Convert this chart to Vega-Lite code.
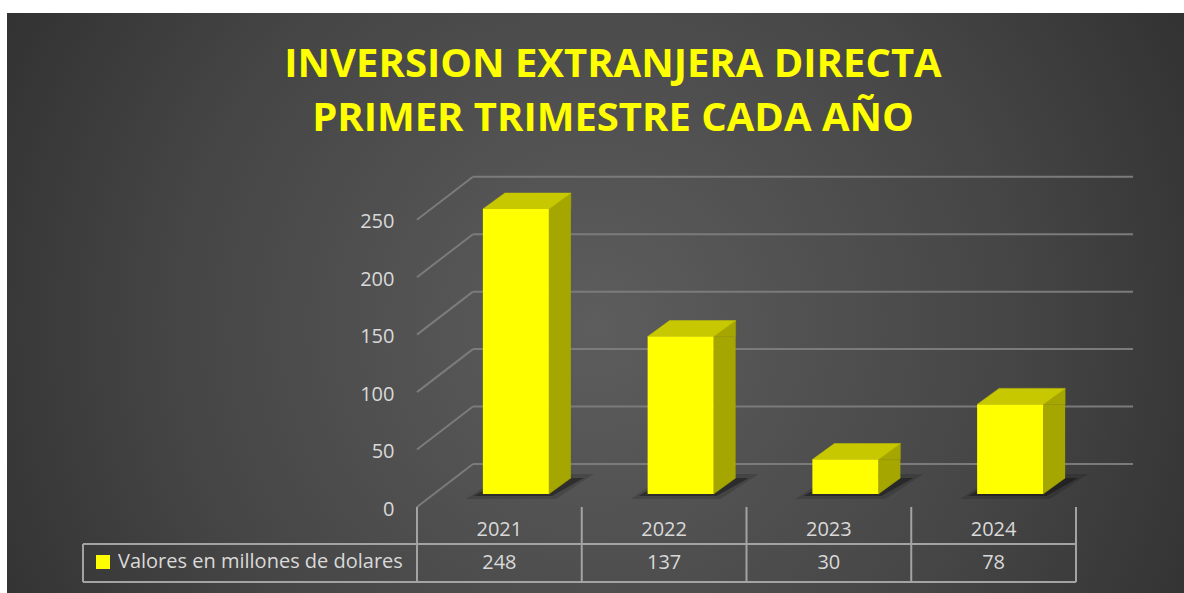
{
  "$schema": "https://vega.github.io/schema/vega-lite/v6.json",
  "width": 1177,
  "height": 580,
  "autosize": {"type": "none"},
  "padding": {"left": 7, "top": 13, "right": 0, "bottom": 0},
  "background": "#ffffff",
  "config": {
    "view": {
      "stroke": null,
      "fill": {"gradient": "radial", "x1": 0.5, "y1": 0.52, "r1": 0, "x2": 0.5, "y2": 0.52, "r2": 0.72,
        "stops": [{"offset": 0, "color": "#5d5d5d"}, {"offset": 0.5, "color": "#454545"}, {"offset": 1, "color": "#242424"}]}
    },
    "text": {"font": "Open Sans"}
  },
  "title": {
    "text": "INVERSION EXTRANJERA DIRECTA",
    "subtitle": "PRIMER TRIMESTRE CADA AÑO",
    "color": "#FFFF00",
    "subtitleColor": "#FFFF00",
    "font": "Open Sans",
    "subtitleFont": "Open Sans",
    "fontSize": 40,
    "subtitleFontSize": 40,
    "fontWeight": "bold",
    "subtitleFontWeight": "bold",
    "subtitlePadding": 14,
    "anchor": "middle",
    "frame": "group",
    "offset": -126,
    "dx": 17.5
  },
  "datasets": {
    "ied": [
      {"anio": "2021", "valor": 248, "serie": "Valores en millones de dolares"},
      {"anio": "2022", "valor": 137, "serie": "Valores en millones de dolares"},
      {"anio": "2023", "valor": 30, "serie": "Valores en millones de dolares"},
      {"anio": "2024", "valor": 78, "serie": "Valores en millones de dolares"}
    ],
    "ticks": [{"v": 0}, {"v": 50}, {"v": 100}, {"v": 150}, {"v": 200}, {"v": 250}]
  },
  "layer": [
    {
      "data": {"name": "ticks"},
      "mark": {"type": "rule", "color": "#7b7b7b", "strokeWidth": 2, "xOffset": -26.4, "x2Offset": 139.4, "yOffset": -30},
      "encoding": {
        "x": {"datum": "2021", "type": "nominal", "bandPosition": 0.5,
          "scale": {"domain": ["2021", "2022", "2023", "2024"], "range": [410, 1069], "paddingInner": 0, "paddingOuter": 0},
          "axis": null},
        "x2": {"datum": "2024", "bandPosition": 0.5},
        "y": {"field": "v", "type": "quantitative",
          "scale": {"domain": [0, 250], "range": [481, 193.75], "nice": false, "zero": true},
          "axis": {"orient": "left", "offset": -387, "domain": false, "ticks": false, "grid": false, "labelPadding": 0,
            "labelOffset": 15, "labelFont": "Open Sans", "labelFontSize": 20, "labelColor": "#D9D9D9",
            "values": [0, 50, 100, 150, 200, 250], "title": null}}
      }
    },
    {
      "data": {"name": "ticks"},
      "mark": {"type": "rule", "color": "#7b7b7b", "strokeWidth": 2, "xOffset": -82.4, "x2Offset": -26.4, "yOffset": 13, "y2Offset": -30},
      "encoding": {
        "x": {"datum": "2021", "type": "nominal", "bandPosition": 0.5},
        "x2": {"datum": "2021", "bandPosition": 0.5},
        "y": {"field": "v", "type": "quantitative"},
        "y2": {"field": "v"}
      }
    },
    {
      "data": {"name": "ied"},
      "mark": {"type": "point", "shape": "M-50,5 L40,5 L78,-20 L-12,-20 Z", "size": 4, "filled": true, "color": "#000000", "opacity": 0.15, "xOffset": 16.5},
      "encoding": {"x": {"field": "anio", "type": "nominal"}, "y": {"datum": 0}}
    },
    {
      "data": {"name": "ied"},
      "mark": {"type": "point", "shape": "M-42,2 L36,2 L68,-16 L-10,-16 Z", "size": 4, "filled": true, "color": "#000000", "opacity": 0.35, "xOffset": 16.5},
      "encoding": {"x": {"field": "anio", "type": "nominal"}, "y": {"datum": 0}}
    },
    {
      "data": {"name": "ied"},
      "mark": {"type": "bar", "width": 22, "xOffset": 60.5, "y2Offset": -16, "color": "#A6A600"},
      "encoding": {"x": {"field": "anio", "type": "nominal"}, "y": {"field": "valor", "type": "quantitative"}, "y2": {"datum": 0}}
    },
    {
      "data": {"name": "ied"},
      "mark": {"type": "point", "shape": "M33,0 L55,-16 L55,0 Z", "size": 4, "filled": true, "color": "#A6A600", "stroke": "#A6A600", "strokeWidth": 0.5, "opacity": 1, "xOffset": 16.5},
      "encoding": {"x": {"field": "anio", "type": "nominal"}, "y": {"field": "valor", "type": "quantitative"}}
    },
    {
      "data": {"name": "ied"},
      "mark": {"type": "point", "shape": "M33,0 L55,-16 L33,-16 Z", "size": 4, "filled": true, "color": "#A6A600", "stroke": "#A6A600", "strokeWidth": 0.5, "opacity": 1, "xOffset": 16.5},
      "encoding": {"x": {"field": "anio", "type": "nominal"}, "y": {"datum": 0}}
    },
    {
      "data": {"name": "ied"},
      "mark": {"type": "point", "shape": "M-33,0 L33,0 L55,-16 L-11,-16 Z", "size": 4, "filled": true, "color": "#C8C800", "stroke": "#C8C800", "strokeWidth": 0.5, "opacity": 1, "xOffset": 16.5},
      "encoding": {"x": {"field": "anio", "type": "nominal"}, "y": {"field": "valor", "type": "quantitative"}}
    },
    {
      "data": {"name": "ied"},
      "mark": {"type": "bar", "width": 66, "xOffset": 16.5, "opacity": 1},
      "encoding": {
        "x": {"field": "anio", "type": "nominal"},
        "y": {"field": "valor", "type": "quantitative"},
        "color": {"field": "serie", "type": "nominal", "scale": {"range": ["#FFFF00"]},
          "legend": {"orient": "none", "legendX": 86, "legendY": 539, "title": null, "padding": 0,
            "symbolType": "square", "symbolSize": 196, "symbolStrokeWidth": 0, "labelOffset": 5, "labelLimit": 0,
            "labelFont": "Open Sans", "labelFontSize": 20, "labelColor": "#D9D9D9"}}
      }
    },
    {
      "data": {"name": "ied"},
      "mark": {"type": "rule", "color": "#a3a3a3", "strokeWidth": 2, "yOffset": 13, "y2Offset": 88},
      "encoding": {"x": {"field": "anio", "type": "nominal", "bandPosition": 0}, "y": {"datum": 0}, "y2": {"datum": 0}}
    },
    {
      "data": {"values": [{}]},
      "mark": {"type": "rule", "color": "#a3a3a3", "strokeWidth": 2, "yOffset": 13, "y2Offset": 88},
      "encoding": {"x": {"datum": "2024", "type": "nominal", "bandPosition": 1}, "y": {"datum": 0}, "y2": {"datum": 0}}
    },
    {
      "data": {"values": [{}]},
      "mark": {"type": "rule", "color": "#a3a3a3", "strokeWidth": 2, "xOffset": -334, "yOffset": 50, "y2Offset": 88},
      "encoding": {"x": {"datum": "2021", "type": "nominal", "bandPosition": 0}, "y": {"datum": 0}, "y2": {"datum": 0}}
    },
    {
      "data": {"values": [{}]},
      "mark": {"type": "rule", "color": "#a3a3a3", "strokeWidth": 2, "xOffset": -334, "yOffset": 50},
      "encoding": {"x": {"datum": "2021", "type": "nominal", "bandPosition": 0}, "x2": {"datum": "2024", "bandPosition": 1}, "y": {"datum": 0}}
    },
    {
      "data": {"values": [{}]},
      "mark": {"type": "rule", "color": "#a3a3a3", "strokeWidth": 2, "xOffset": -334, "yOffset": 88},
      "encoding": {"x": {"datum": "2021", "type": "nominal", "bandPosition": 0}, "x2": {"datum": "2024", "bandPosition": 1}, "y": {"datum": 0}}
    },
    {
      "data": {"name": "ied"},
      "mark": {"type": "text", "font": "Open Sans", "fontSize": 20, "color": "#D9D9D9", "baseline": "middle", "yOffset": 36},
      "encoding": {"x": {"field": "anio", "type": "nominal"}, "y": {"datum": 0}, "text": {"field": "anio"}}
    },
    {
      "data": {"name": "ied"},
      "mark": {"type": "text", "font": "Open Sans", "fontSize": 20, "color": "#D9D9D9", "baseline": "middle", "yOffset": 69},
      "encoding": {"x": {"field": "anio", "type": "nominal"}, "y": {"datum": 0}, "text": {"field": "valor", "type": "quantitative"}}
    }
  ]
}
